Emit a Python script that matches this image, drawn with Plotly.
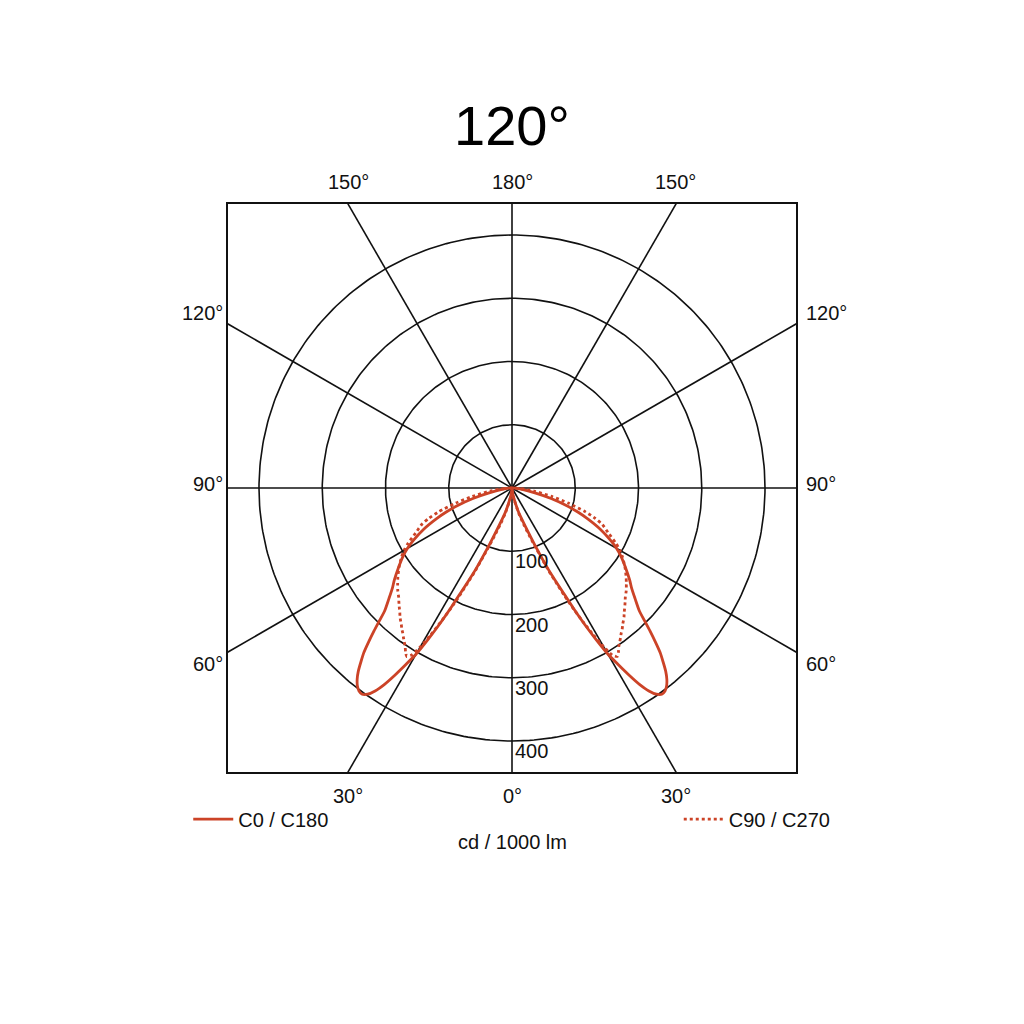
import numpy as np
import plotly.graph_objects as go

# ---------------- data ----------------
gamma_deg = [0, 5, 10, 15, 18, 20, 22, 24, 25, 26, 27, 28, 29, 30, 31, 32, 33, 34,
             35, 36, 37, 38, 39, 40, 41, 42, 43, 44, 45, 46, 48, 50, 52, 55, 58,
             60, 62, 65, 68, 70, 72, 75, 78, 82, 86, 90]
# luminous intensity, cd / 1000 lm
c0_c180 = [2, 6, 15, 38, 55, 72, 100, 140, 160, 182, 212, 243, 273, 303, 325, 348, 370, 387,
           398, 403, 402, 397, 389, 378, 364, 350, 332, 314, 296, 280, 262, 247, 236, 219, 203,
           191, 177, 154, 128, 110, 92, 64, 37, 16, 5, 0]
c90_c270 = [2, 7, 18, 42, 62, 80, 106, 145, 165, 190, 215, 240, 266, 290, 308, 314, 309, 302,
            297, 292, 287, 283, 278, 274, 270, 265, 261, 257, 253, 249, 243, 236, 229, 218, 206,
            197, 186, 168, 154, 140, 122, 92, 64, 35, 12, 0]
series_names = ["C0 / C180", "C90 / C270"]
series_dash = ["solid", "dot"]

circle_values = [100, 200, 300, 400]
circle_labels = ["100", "200", "300", "400"]
spoke_step = 30
top_labels = ["150°", "180°", "150°"]
side_labels = ["120°", "90°", "60°"]
bottom_labels = ["30°", "0°", "30°"]
title_text = "120°"
unit_text = "cd / 1000 lm"

R_MAX = 449          # half-size of the square frame, cd / 1000 lm
CURVE_COLOR = "#CC4327"
FONT = "Liberation Sans, Arial, sans-serif"

fig = go.Figure()

# ---------------- grid: circles and spokes ----------------
t = np.radians(np.linspace(0, 360, 361))
cx, cy = [], []
for r in circle_values:
    cx += list(r * np.sin(t)) + [None]
    cy += list(-r * np.cos(t)) + [None]
fig.add_trace(go.Scatter(x=cx, y=cy, mode="lines", line=dict(color="#111", width=1.6),
                         showlegend=False, hoverinfo="skip"))
sx, sy = [], []
for a in range(0, 360, spoke_step):
    ar = np.radians(a)
    sx += [0, 2000 * np.sin(ar), None]
    sy += [0, -2000 * np.cos(ar), None]
fig.add_trace(go.Scatter(x=sx, y=sy, mode="lines", line=dict(color="#111", width=1.6),
                         showlegend=False, hoverinfo="skip"))

# ---------------- intensity curves ----------------
g = np.radians(np.array(gamma_deg, dtype=float))
for name, vals, dash, leg in zip(series_names, [c0_c180, c90_c270], series_dash, ["legend", "legend2"]):
    v = np.array(vals, dtype=float)
    xs = np.concatenate([-v[::-1] * np.sin(g[::-1]), v * np.sin(g)])
    ys = np.concatenate([-v[::-1] * np.cos(g[::-1]), -v * np.cos(g)])
    fig.add_trace(go.Scatter(x=xs, y=ys, mode="lines", name=name, legend=leg,
                             line=dict(color=CURVE_COLOR, width=2.8, dash=dash, shape="spline",
                                       smoothing=0.6)))

# ---------------- labels ----------------
ann = []
tan30 = np.tan(np.radians(30))
lab_font = dict(family=FONT, size=20, color="#111")
for lab, xv in zip(top_labels, [-R_MAX * tan30, 0, R_MAX * tan30]):
    ann.append(dict(x=xv, y=R_MAX, text=lab, showarrow=False, yanchor="middle", yshift=22, font=lab_font))
for lab, xv in zip(bottom_labels, [-R_MAX * tan30, 0, R_MAX * tan30]):
    ann.append(dict(x=xv, y=-R_MAX, text=lab, showarrow=False, yanchor="middle", yshift=-24, font=lab_font))
for lab, yv, ys_ in zip(side_labels, [R_MAX * tan30, 0, -R_MAX * tan30], [11, 4, -12]):
    ann.append(dict(x=-R_MAX, y=yv, text=lab, showarrow=False, xanchor="right", xshift=-3,
                    yanchor="middle", yshift=ys_, font=lab_font))
    ann.append(dict(x=R_MAX, y=yv, text=lab, showarrow=False, xanchor="left", xshift=8,
                    yanchor="middle", yshift=ys_, font=lab_font))
for lab, r in zip(circle_labels, circle_values):
    ann.append(dict(x=0, y=-r, text=lab, showarrow=False, xanchor="left", xshift=1,
                    yanchor="middle", yshift=-10, font=lab_font))
ann.append(dict(x=0.5, y=0, xref="paper", yref="paper", text=unit_text, showarrow=False,
                yanchor="middle", yshift=-70, font=dict(family=FONT, size=20, color="#111")))

fig.update_layout(
    width=1024, height=1024,
    margin=dict(l=220, r=236, t=196, b=260, pad=0),
    paper_bgcolor="white", plot_bgcolor="white",
    title=dict(text=title_text, x=(220 + 284) / 1024, xanchor="center", y=1 - 117 / 1024,
               yanchor="middle", yref="container",
               font=dict(family=FONT, size=56, color="#000")),
    xaxis=dict(range=[-R_MAX, R_MAX], showgrid=False, zeroline=False, showticklabels=False,
               ticks="", showline=True, mirror=True, linecolor="#111", linewidth=2),
    yaxis=dict(range=[-R_MAX, R_MAX], showgrid=False, zeroline=False, showticklabels=False,
               ticks="", showline=True, mirror=True, linecolor="#111", linewidth=2,
               scaleanchor="x", scaleratio=1),
    annotations=ann,
    legend=dict(x=-0.07, y=-0.083, xanchor="left", yanchor="middle", bgcolor="rgba(0,0,0,0)",
                itemwidth=40, font=dict(family=FONT, size=20, color="#111")),
    legend2=dict(x=1.07, y=-0.083, xanchor="right", yanchor="middle", bgcolor="rgba(0,0,0,0)",
                 itemwidth=40, font=dict(family=FONT, size=20, color="#111")),
    font=dict(family=FONT),
)

fig.write_html("out.html")
